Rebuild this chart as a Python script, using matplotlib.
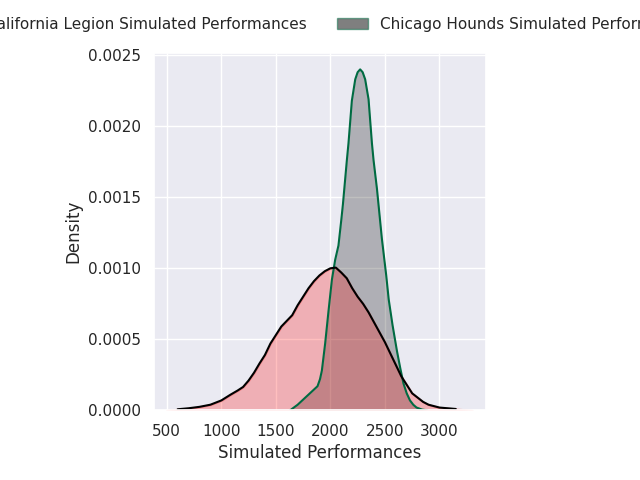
import numpy as np
import matplotlib
matplotlib.use('Agg')
import matplotlib.pyplot as plt
from matplotlib.patches import Patch
import seaborn as sns

# density curves (x = performance, y = density)
california_x = [500, 600, 700, 800, 900, 1000, 1083, 1150, 1200, 1250, 1300,
                1350, 1400, 1450, 1500, 1550, 1600, 1650, 1700, 1750, 1800,
                1850, 1900, 1950, 2000, 2050, 2100, 2150, 2200, 2250, 2300,
                2350, 2400, 2450, 2500, 2550, 2600, 2650, 2700, 2750, 2800,
                2850, 2900, 2950, 3000, 3150, 3300]
california_y = [0.0, 0.000008, 0.000015, 0.000025, 0.00004, 0.00007, 0.00011,
                0.00014, 0.000165, 0.00021, 0.000265, 0.00033, 0.00039,
                0.00047, 0.00053, 0.00059, 0.00063, 0.00067, 0.00074, 0.0008,
                0.00086, 0.00091, 0.00095, 0.00098, 0.001, 0.001005, 0.00097,
                0.00093, 0.00086, 0.0008, 0.00075, 0.00069, 0.00062, 0.00055,
                0.00048, 0.0004, 0.00032, 0.00024, 0.00018, 0.00012, 0.00009,
                0.00006, 0.00004, 0.00003, 0.00002, 0.00001, 0.0]

chicago_x = [1630, 1700, 1784, 1840, 1882, 1905, 1922, 1952, 1983, 2014, 2044,
             2074, 2100, 2115, 2151, 2166, 2197, 2228, 2250, 2273, 2296, 2319,
             2350, 2381, 2396, 2427, 2472, 2512, 2535, 2570, 2610, 2640, 2670,
             2700, 2730, 2760, 2790, 2840, 2890]
chicago_y = [0.0, 0.00004, 0.0001, 0.00014, 0.00017, 0.00022, 0.00028, 0.00047,
             0.0007, 0.00092, 0.00106, 0.00116, 0.00134, 0.00145, 0.00176,
             0.00188, 0.00218, 0.00233, 0.00238, 0.0024, 0.00238, 0.00233,
             0.00219, 0.00188, 0.00176, 0.00156, 0.00121, 0.00095, 0.00078,
             0.0006, 0.00042, 0.0003, 0.00019, 0.00012, 0.00007, 0.00004,
             0.00002, 0.000006, 0.0]

labels = ['California Legion Simulated Performances',
          'Chicago Hounds Simulated Performances']
green = '#006b42'

sns.set_theme(style='darkgrid')

fig = plt.figure(figsize=(6.4, 4.8), dpi=100)
ax = fig.add_axes([0.2406, 0.145, 0.519, 0.7448])

ax.fill_between(chicago_x, chicago_y, color='black', alpha=0.25, linewidth=0)
ax.plot(chicago_x, chicago_y, color=green, linewidth=1.5)

ax.fill_between(california_x, california_y, facecolor=(1, 0, 0, 0.25),
                edgecolor=(1, 0, 0, 0.25), linewidth=1.5)
ax.plot(california_x[1:-1], california_y[1:-1], color='black', linewidth=1.5)

ax.set_xlim(383, 3428)
ax.set_ylim(0, 0.002516)
ax.set_xticks([500, 1000, 1500, 2000, 2500, 3000])
ax.set_yticks([0, 0.0005, 0.001, 0.0015, 0.002, 0.0025])
ax.set_yticklabels(['0.0000', '0.0005', '0.0010', '0.0015', '0.0020', '0.0025'])
ax.set_xlabel('Simulated Performances')
ax.set_ylabel('Density')

handles = [Patch(facecolor=(1, 0, 0, 0.5), edgecolor=(1, 0, 0, 0.5)),
           Patch(facecolor=(0, 0, 0, 0.5), edgecolor=(0, 0.42, 0.26, 0.5))]
ax.legend(handles, labels, loc='lower center', bbox_to_anchor=(0.5, 1.02),
          ncol=2, frameon=False)

fig.savefig('out.png', dpi=100)
